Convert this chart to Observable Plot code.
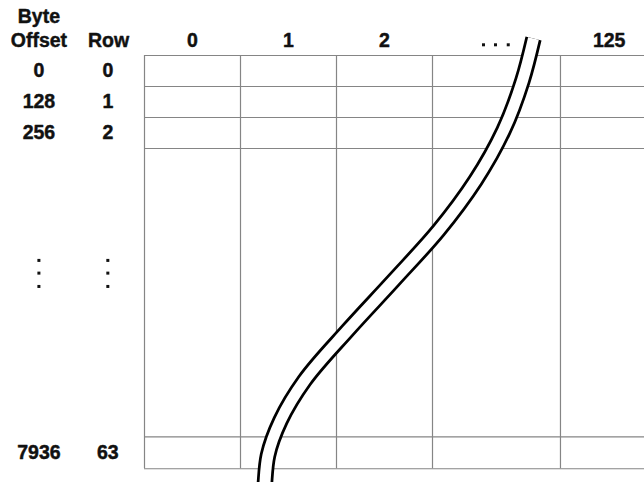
<!DOCTYPE html>
<html>
<head>
<meta charset="utf-8">
<script src="https://cdn.jsdelivr.net/npm/d3@7"></script>
<script src="https://cdn.jsdelivr.net/npm/@observablehq/plot@0.6"></script>
<style>
  html, body { margin: 0; padding: 0; background: #fff; }
</style>
</head>
<body>
<div id="chart"></div>
<script>
// ---- Table content (x in column units, y in row units) ----
const columnLabels  = ["0", "1", "2", "125"];
const columnCenters = [0.5, 1.5, 2.5, 4.84];
const columnEdges   = [0, 1, 2, 3, 4.333];
const gridRight     = 5.21;

const rowLabels   = ["0", "1", "2", "63"];
const byteOffsets = ["0", "128", "256", "7936"];
const rowCenters  = [0.5, 1.5, 2.5, 12.82];
const rowEdges    = [0, 1, 2, 3, 12.3, 13.33];

const headerTexts = ["Byte", "Offset", "Row"];
const headerX     = [-1.1, -1.1, -0.375];
const headerY     = [-1.26, -0.484, -0.484];

const offsetColX = -1.1;
const rowColX    = -0.382;
const colHeaderY = -0.484;

// elided column "..." and elided rows (vertical dots)
const hEllipsisX = [3.531, 3.656, 3.789];
const hEllipsisY = -0.345;
const vEllipsisY = [6.61, 7.02, 7.45];

// break mark (centre line of the double S-curve)
const breakX = [4.052, 3.9375, 3.740, 3.448, 3.0625, 2.594, 2.115, 1.667, 1.417, 1.286, 1.255, 1.25];
const breakY = [-0.548, 0.806, 2.419, 4.032, 5.645, 7.258, 8.871, 10.484, 11.774, 12.903, 13.774, 14.03];

// ---- build tables ----
const colHead = columnLabels.map((t, i) => ({t, x: columnCenters[i], y: colHeaderY}));
const rowsLab = rowLabels.map((t, i) => ({t, x: rowColX, y: rowCenters[i]}));
const offsLab = byteOffsets.map((t, i) => ({t, x: offsetColX, y: rowCenters[i]}));
const heads   = headerTexts.map((t, i) => ({t, x: headerX[i], y: headerY[i]}));
const hDots   = hEllipsisX.map(x => ({x, y: hEllipsisY}));
const vDots   = [offsetColX, rowColX].flatMap(x => vEllipsisY.map(y => ({x, y})));
const brk     = breakX.map((x, i) => ({x, y: breakY[i]}));

const font = "'Liberation Sans', Arial, Helvetica, sans-serif";
const txt = (data) => Plot.text(data, {
  x: "x", y: "y", text: "t",
  fontSize: 19.5, fontWeight: "bold", fontFamily: font, fill: "#111",
  stroke: "#111", strokeWidth: 0.45,
  textAnchor: "middle", lineAnchor: "middle"
});

const gridStroke = "#858585";

const chart = Plot.plot({
  width: 644,
  height: 482,
  margin: 0,
  x: {domain: [-1.5, 5.2083], range: [0, 644], axis: null},
  y: {domain: [-1.774, 13.774], range: [0, 482], axis: null},
  style: {background: "#fff"},
  marks: [
    Plot.ruleY(rowEdges, {x1: 0, x2: gridRight, stroke: gridStroke, strokeWidth: 1.2}),
    Plot.ruleX(columnEdges, {y1: 0, y2: rowEdges[rowEdges.length - 1], stroke: gridStroke, strokeWidth: 1.2}),
    Plot.line(brk, {x: "x", y: "y", curve: "monotone-y", stroke: "#000", strokeWidth: 16.5, strokeLinecap: "butt"}),
    Plot.line(brk, {x: "x", y: "y", curve: "monotone-y", stroke: "#fff", strokeWidth: 11, strokeLinecap: "butt"}),
    txt(heads),
    txt(colHead),
    txt(rowsLab),
    txt(offsLab),
    Plot.dot(hDots, {x: "x", y: "y", symbol: "square", r: 1.7, fill: "#111", stroke: null}),
    Plot.dot(vDots, {x: "x", y: "y", symbol: "square", r: 1.7, fill: "#111", stroke: null})
  ]
});
document.getElementById("chart").appendChild(chart);
</script>
</body>
</html>
